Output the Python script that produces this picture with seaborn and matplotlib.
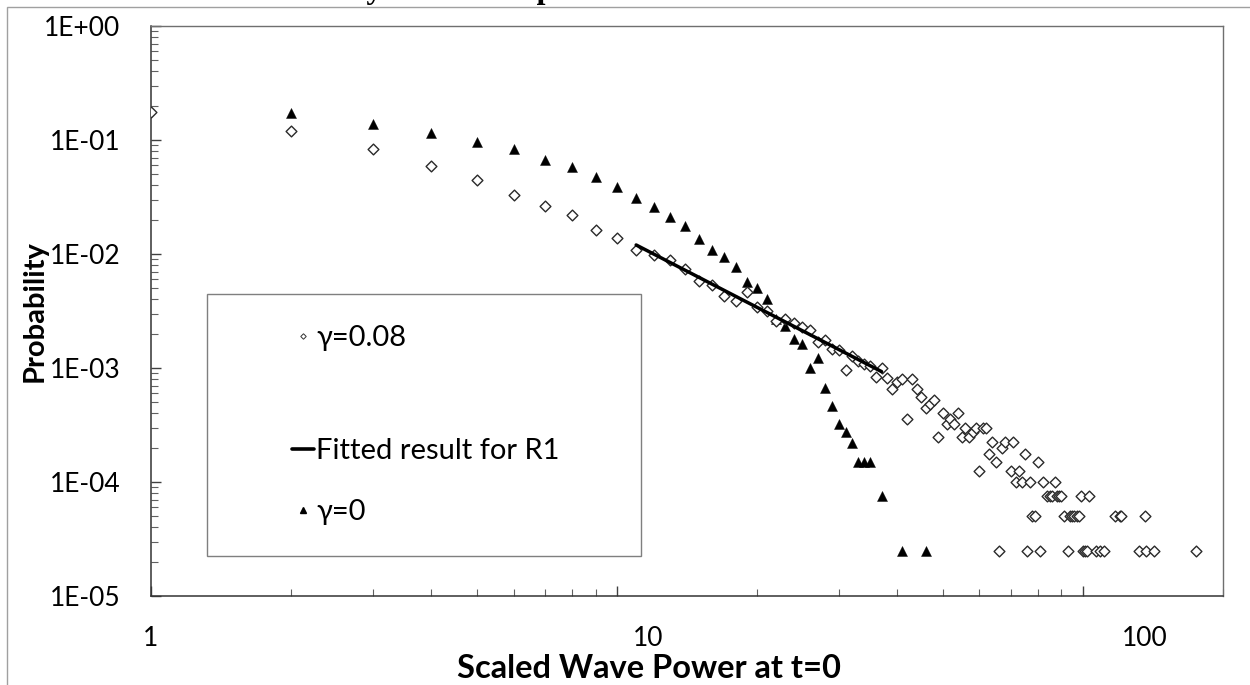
import numpy as np
import pandas as pd
import matplotlib
matplotlib.use("Agg")
import matplotlib.pyplot as plt
from matplotlib.patches import Rectangle
from matplotlib.lines import Line2D
import seaborn as sns

# ---------------- data ----------------
x_g008 = [1, 2, 3, 4, 5, 6, 7, 8, 9, 10, 11, 12, 13, 14, 15, 16, 17, 18, 19, 20,
          21, 22, 23, 24, 25, 26, 27, 28, 29, 30, 31, 32, 33, 34, 35, 36, 37, 38, 39, 40,
          41, 42, 43, 44, 45, 46, 47, 48, 49, 50, 51, 52, 53, 54, 55, 56, 57, 58, 59, 60,
          61, 62, 63, 64, 65, 66, 67, 68, 70, 71, 72, 73, 74, 75, 76, 77, 78, 79, 80, 81,
          82, 84, 85, 86, 87, 88, 89, 90, 91, 93, 94, 95, 96, 97, 98, 99, 100, 101, 102, 103,
          107, 109, 111, 117, 120, 121, 132, 136, 137, 142, 175]
p_g008 = [0.177, 0.119, 0.0828, 0.0591, 0.0449, 0.0331, 0.0264, 0.0218, 0.0163, 0.0137,
          0.0108, 0.00973, 0.00881, 0.00743, 0.00576, 0.00538, 0.00431, 0.00387, 0.00461, 0.00345,
          0.00316, 0.00258, 0.00269, 0.00250, 0.00228, 0.00215, 0.00170, 0.00176, 0.00147, 0.00144,
          0.000966, 0.00128, 0.00115, 0.00108, 0.00105, 0.000839, 0.000993, 0.000822, 0.00065, 0.000754,
          0.000805, 0.000355, 0.000801, 0.00065, 0.000553, 0.000448, 0.000483, 0.000524, 0.00025, 0.0004,
          0.00032, 0.000355, 0.000323, 0.0004, 0.00025, 0.0003, 0.00025, 0.000275, 0.0003, 0.000125,
          0.0003, 0.0003, 0.000175, 0.000225, 0.00015, 0.000025, 0.0002, 0.000225, 0.000125, 0.000225,
          0.0001, 0.000125, 0.0001, 0.000175, 0.000025, 0.0001, 0.00005, 0.00005, 0.00015, 0.000025,
          0.0001, 0.000075, 0.000075, 0.000075, 0.0001, 0.000075, 0.000075, 0.000075, 0.00005, 0.000025,
          0.00005, 0.00005, 0.00005, 0.00005, 0.00005, 0.000075, 0.000025, 0.000025, 0.000025, 0.000075,
          0.000025, 0.000025, 0.000025, 0.00005, 0.00005, 0.00005, 0.000025, 0.00005, 0.000025, 0.000025,
          0.000025]

x_g0 = [2, 3, 4, 5, 6, 7, 8, 9, 10, 11, 12, 13, 14, 15, 16, 17, 18, 19, 20, 21,
        22, 23, 24, 25, 26, 27, 28, 29, 30, 31, 32, 33, 34, 35, 37, 41, 46]
p_g0 = [0.171, 0.138, 0.116, 0.0955, 0.0829, 0.0672, 0.0583, 0.0474, 0.0390, 0.0308,
        0.0257, 0.0212, 0.0177, 0.0135, 0.0108, 0.00947, 0.00764, 0.00564, 0.00500, 0.00403,
        0.00271, 0.00233, 0.00180, 0.00161, 0.00101, 0.00122, 0.000664, 0.000464, 0.000321, 0.000273,
        0.000221, 0.00015, 0.00015, 0.00015, 0.000075, 0.000025, 0.000025]

x_fit = [11, 37]
p_fit = [0.0120, 0.00093]

y_tick_vals = [1e0, 1e-1, 1e-2, 1e-3, 1e-4, 1e-5]
y_tick_labels = ["1E+00", "1E-01", "1E-02", "1E-03", "1E-04", "1E-05"]
x_tick_labels = ["1", "10", "100"]

labels = ["\u03b3=0.08", "Fitted result for R1", "\u03b3=0"]
title = "Monte Carlo analysis of wave power"
xlabel = "Scaled Wave Power at t=0"
ylabel = "Probability"

df008 = pd.DataFrame({"x": x_g008, "p": p_g008})
df0 = pd.DataFrame({"x": x_g0, "p": p_g0})
dffit = pd.DataFrame({"x": x_fit, "p": p_fit})

# ---------------- style ----------------
sns.set_theme(style="white")
plt.rcParams["font.family"] = ["Lato", "DejaVu Sans"]

W, H = 1250, 685
fig = plt.figure(figsize=(W / 100, H / 100), dpi=100)
L, R, T, B = 151, 1223, 26, 596
ax = fig.add_axes([L / W, 1 - B / H, (R - L) / W, (B - T) / H])

sns.scatterplot(data=df0, x="x", y="p", ax=ax, marker="^", s=52, color="black",
                edgecolor="black", linewidth=0.3, zorder=3, legend=False)
sns.scatterplot(data=df008, x="x", y="p", ax=ax, marker="D", s=30, facecolor="white",
                edgecolor="#2a2a2a", linewidth=1.0, zorder=4, legend=False)
sns.lineplot(data=dffit, x="x", y="p", ax=ax, color="black", linewidth=2.5, zorder=5,
             legend=False)

ax.set_xscale("log")
ax.set_yscale("log")
ax.set_xlim(1, 200)
ax.set_ylim(1e-5, 1)

ax.set_yticks(y_tick_vals)
ax.set_yticklabels(y_tick_labels)
ax.set_xticks([1, 10, 100])
ax.set_xticklabels([])
ax.tick_params(axis="both", which="major", direction="in", length=7, width=1,
               color="#404040", labelsize=19, pad=22, bottom=True, left=True)
ax.tick_params(axis="both", which="minor", direction="in", length=5, width=0.8,
               color="#606060", bottom=True, left=True)
for lab in ax.get_yticklabels():
    lab.set_color("black")

# x tick labels (as placed in the reference, offset from the ticks)
for xf, t in zip([0.0, 0.4636, 0.927], x_tick_labels):
    ax.text(xf, -0.075, t, transform=ax.transAxes, ha="center", va="center",
            fontsize=19, color="black")

for side in ["left", "bottom"]:
    ax.spines[side].set_color("#333333")
    ax.spines[side].set_linewidth(1.1)
for side in ["top", "right"]:
    ax.spines[side].set_color("#6f6f6f")
    ax.spines[side].set_linewidth(1.0)

ax.set_xlabel(xlabel, fontsize=23.5, fontweight="bold", color="black", ha="center", va="center")
ax.xaxis.set_label_coords(0.4646, -0.127)
ax.set_ylabel(ylabel, fontsize=21, fontweight="bold", color="black", ha="center", va="center")
ax.yaxis.set_label_coords(-0.1082, 0.5)

# legend frame
ax.add_patch(Rectangle((0.0522, 0.0702), 0.4049, 0.4596, transform=ax.transAxes,
                       facecolor="white", edgecolor="#7f7f7f", linewidth=1.0, zorder=6))
handles = [
    Line2D([], [], marker="D", markersize=2.8, markerfacecolor="white",
           markeredgecolor="#333333", markeredgewidth=0.7, linestyle="none"),
    Line2D([], [], color="black", linewidth=2.6),
    Line2D([], [], marker="^", markersize=4.0, color="black", linestyle="none"),
]
rows = [0.4526, 0.2544, 0.1474]
legs = []
for h, lab, yy in zip(handles, labels, rows):
    lg = ax.legend([h], [lab], loc="center left", bbox_to_anchor=(0.1315, yy),
                   frameon=False, borderpad=0, borderaxespad=0, handlelength=0.75,
                   handletextpad=0.08, fontsize=21)
    lg.set_zorder(7)
    for txt in lg.get_texts():
        txt.set_color("black")
    legs.append(lg)
for lg in legs[:-1]:
    ax.add_artist(lg)

# outer chart border and (clipped, as in the reference) title
fig.add_artist(Rectangle((7 / W, -0.1), 1.2, 1 - 7 / H + 0.1, transform=fig.transFigure,
                         facecolor="none", edgecolor="#a0a0a0", linewidth=1.0, zorder=0))
fig.text(125 / W, 1 + 2 / H, title, ha="left", va="baseline", fontsize=23,
         fontweight="bold", family=["Liberation Serif", "DejaVu Serif"], color="black")

fig.savefig("out.png", dpi=100)
